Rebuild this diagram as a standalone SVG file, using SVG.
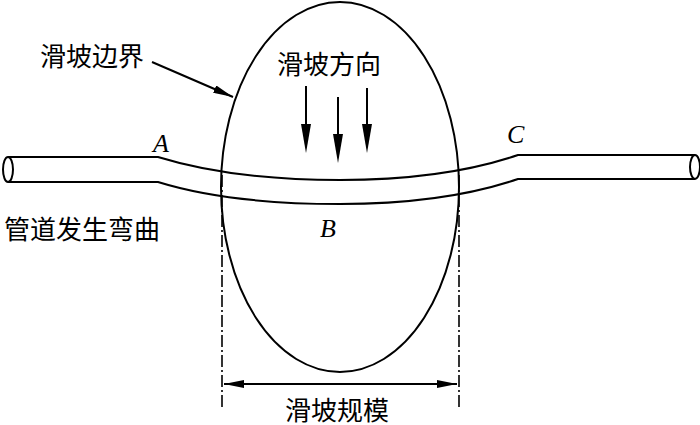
<svg xmlns="http://www.w3.org/2000/svg" width="700" height="425" viewBox="0 0 700 425">
<defs>
<style>
.ln{fill:none;stroke:#000;stroke-width:2}
.dd{fill:none;stroke:#000;stroke-width:1.6;stroke-dasharray:12,3,2,3}
.cn{font-family:"Liberation Serif","Noto Sans CJK SC",serif;font-size:26px;fill:#000}
.lt{font-family:"Liberation Serif",serif;font-style:italic;font-size:26px;fill:#000}
</style>
<marker id="ah" viewBox="0 0 20 8" refX="20" refY="4" markerWidth="20" markerHeight="8" markerUnits="userSpaceOnUse" orient="auto-start-reverse">
<path d="M0,0 L20,4 L0,8 Z" fill="#000"/>
</marker>
</defs>
<g id="landslide">
<ellipse class="ln" cx="340" cy="187" rx="119" ry="185"/>
</g>
<g id="pipe">
<path class="ln" d="M8,157 L158,157 C200,170 260,180 340,180 C420,180 480,168 518,155 L695,155"/>
<path class="ln" d="M8,182 L158,182 C200,195 260,204 340,204 C420,204 480,192 518,179 L695,179"/>
<ellipse class="ln" cx="8" cy="169.5" rx="5" ry="12.5"/>
<ellipse class="ln" cx="695" cy="167" rx="5" ry="12"/>
</g>
<g id="labels">
<text class="cn" x="40" y="66">滑坡边界</text>
<text class="cn" x="277" y="74">滑坡方向</text>
<text class="cn" x="4" y="239">管道发生弯曲</text>
<text class="cn" x="285" y="420">滑坡规模</text>
<text class="lt" x="153" y="152">A</text>
<text class="lt" x="507" y="143">C</text>
<text class="lt" x="320" y="237">B</text>
</g>
<g id="connectors">
<line class="ln" x1="152" y1="62" x2="233" y2="97" marker-end="url(#ah)"/>
<line class="ln" x1="306" y1="86" x2="306" y2="124"/>
<path d="M301,124 L306,153 L311,124 Z" fill="#000"/>
<line class="ln" x1="338" y1="97" x2="338" y2="134"/>
<path d="M333,134 L338,163 L343,134 Z" fill="#000"/>
<line class="ln" x1="367" y1="88" x2="367" y2="124"/>
<path d="M362,124 L367,153 L372,124 Z" fill="#000"/>
<line class="dd" x1="222" y1="175" x2="222" y2="410"/>
<line class="dd" x1="459" y1="175" x2="459" y2="410"/>
<line class="ln" x1="224" y1="384" x2="457" y2="384" marker-start="url(#ah)" marker-end="url(#ah)"/>
</g>
</svg>
